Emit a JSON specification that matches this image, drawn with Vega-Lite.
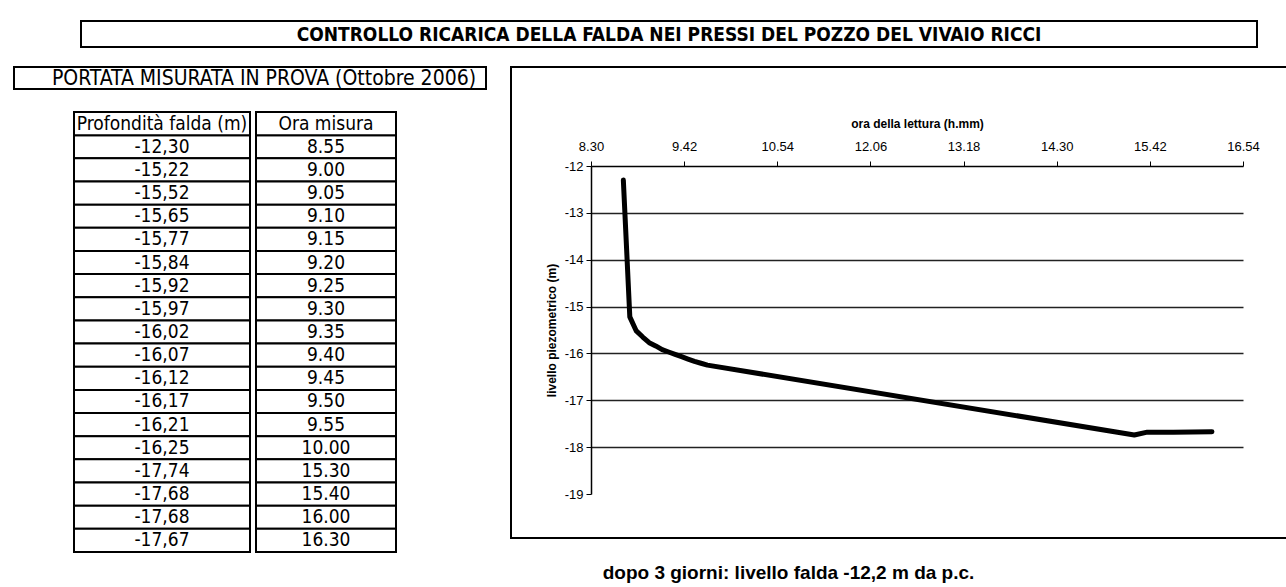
{
  "$schema": "https://vega.github.io/schema/vega-lite/v6.json",
  "padding": {"left": 13, "top": 20, "right": 0, "bottom": 0},
  "background": "white",
  "config": {
    "locale": {"number": {"decimal": ",", "thousands": ".", "grouping": [3], "currency": ["", ""], "minus": "-"}},
    "view": {"stroke": null},
    "font": "Liberation Sans"
  },
  "datasets": {
    "tab": [
      {"prof": -12.30, "ora": "8.55", "min": 535},
      {"prof": -15.22, "ora": "9.00", "min": 540},
      {"prof": -15.52, "ora": "9.05", "min": 545},
      {"prof": -15.65, "ora": "9.10", "min": 550},
      {"prof": -15.77, "ora": "9.15", "min": 555},
      {"prof": -15.84, "ora": "9.20", "min": 560},
      {"prof": -15.92, "ora": "9.25", "min": 565},
      {"prof": -15.97, "ora": "9.30", "min": 570},
      {"prof": -16.02, "ora": "9.35", "min": 575},
      {"prof": -16.07, "ora": "9.40", "min": 580},
      {"prof": -16.12, "ora": "9.45", "min": 585},
      {"prof": -16.17, "ora": "9.50", "min": 590},
      {"prof": -16.21, "ora": "9.55", "min": 595},
      {"prof": -16.25, "ora": "10.00", "min": 600},
      {"prof": -17.74, "ora": "15.30", "min": 930},
      {"prof": -17.68, "ora": "15.40", "min": 940},
      {"prof": -17.68, "ora": "16.00", "min": 960},
      {"prof": -17.67, "ora": "16.30", "min": 990}
    ]
  },
  "spacing": 18,
  "vconcat": [
    {
      "spacing": 65,
      "hconcat": [
        {"data": {"values": []}, "mark": {"type": "text", "text": ""}, "width": 1, "height": 1},
        {
          "width": 1176, "height": 26,
          "view": {"stroke": "black", "strokeWidth": 2},
          "data": {"values": [{"t": "CONTROLLO RICARICA DELLA FALDA NEI PRESSI DEL POZZO DEL VIVAIO RICCI"}]},
          "mark": {"type": "text", "align": "center", "baseline": "middle", "dy": 1, "font": "Liberation Sans Narrow, Arial Narrow, DejaVu Sans Condensed, sans-serif", "fontSize": 19, "fontWeight": "bold", "color": "black"},
          "encoding": {
            "x": {"datum": 0.5, "type": "quantitative", "scale": {"domain": [0, 1]}, "axis": null},
            "y": {"datum": 0.5, "type": "quantitative", "scale": {"domain": [0, 1]}, "axis": null},
            "text": {"field": "t"}
          }
        }
      ]
    },
    {
      "spacing": 23,
      "hconcat": [
        {
          "spacing": 21,
          "vconcat": [
            {
              "width": 472, "height": 22,
              "view": {"stroke": "black", "strokeWidth": 2},
              "data": {"values": [{"t": "PORTATA MISURATA IN PROVA (Ottobre 2006)"}]},
              "mark": {"type": "text", "dx": 14, "dy": 1, "align": "center", "baseline": "middle", "font": "Liberation Sans Narrow, Arial Narrow, DejaVu Sans Condensed, sans-serif", "fontSize": 21, "color": "black"},
              "encoding": {
                "x": {"datum": 0.5, "type": "quantitative", "scale": {"domain": [0, 1]}, "axis": null},
                "y": {"datum": 0.5, "type": "quantitative", "scale": {"domain": [0, 1]}, "axis": null},
                "text": {"field": "t"}
              }
            },
            {
              "spacing": 58,
              "hconcat": [
                {"data": {"values": []}, "mark": {"type": "text", "text": ""}, "width": 1, "height": 1},
                {
                  "spacing": 4,
                  "hconcat": [
                    {
                      "width": 176, "height": 440,
                      "layer": [
                        {
                          "data": {"name": "tab"},
                          "mark": {"type": "rect", "fill": "white", "stroke": "black", "strokeWidth": 2},
                          "encoding": {
                            "y": {"field": "ora", "type": "nominal", "sort": null, "scale": {"domain": ["h", "8.55", "9.00", "9.05", "9.10", "9.15", "9.20", "9.25", "9.30", "9.35", "9.40", "9.45", "9.50", "9.55", "10.00", "15.30", "15.40", "16.00", "16.30"], "paddingInner": 0, "paddingOuter": 0}, "axis": null},
                            "x": {"datum": 0, "type": "quantitative", "scale": {"domain": [0, 1]}, "axis": null},
                            "x2": {"datum": 1}
                          }
                        },
                        {
                          "data": {"name": "tab"},
                          "mark": {"type": "text", "font": "Liberation Sans Narrow, Arial Narrow, DejaVu Sans Condensed, sans-serif", "fontSize": 19, "color": "black", "baseline": "middle"},
                          "encoding": {
                            "y": {"field": "ora", "type": "nominal", "sort": null},
                            "x": {"datum": 0.5, "type": "quantitative"},
                            "text": {"field": "prof", "format": ".2f"}
                          }
                        },
                        {
                          "data": {"values": [{"ora": "h", "label": "Profondità falda (m)"}]},
                          "mark": {"type": "rect", "fill": "white", "stroke": "black", "strokeWidth": 2},
                          "encoding": {
                            "y": {"field": "ora", "type": "nominal"},
                            "x": {"datum": 0, "type": "quantitative"},
                            "x2": {"datum": 1}
                          }
                        },
                        {
                          "data": {"values": [{"ora": "h", "label": "Profondità falda (m)"}]},
                          "mark": {"type": "text", "font": "Liberation Sans Narrow, Arial Narrow, DejaVu Sans Condensed, sans-serif", "fontSize": 19, "color": "black", "baseline": "middle"},
                          "encoding": {
                            "y": {"field": "ora", "type": "nominal"},
                            "x": {"datum": 0.5, "type": "quantitative"},
                            "text": {"field": "label"}
                          }
                        }
                      ]
                    },
                    {
                      "width": 140, "height": 440,
                      "layer": [
                        {
                          "data": {"name": "tab"},
                          "mark": {"type": "rect", "fill": "white", "stroke": "black", "strokeWidth": 2},
                          "encoding": {
                            "y": {"field": "ora", "type": "nominal", "sort": null, "scale": {"domain": ["h", "8.55", "9.00", "9.05", "9.10", "9.15", "9.20", "9.25", "9.30", "9.35", "9.40", "9.45", "9.50", "9.55", "10.00", "15.30", "15.40", "16.00", "16.30"], "paddingInner": 0, "paddingOuter": 0}, "axis": null},
                            "x": {"datum": 0, "type": "quantitative", "scale": {"domain": [0, 1]}, "axis": null},
                            "x2": {"datum": 1}
                          }
                        },
                        {
                          "data": {"name": "tab"},
                          "mark": {"type": "text", "font": "Liberation Sans Narrow, Arial Narrow, DejaVu Sans Condensed, sans-serif", "fontSize": 19, "color": "black", "baseline": "middle"},
                          "encoding": {
                            "y": {"field": "ora", "type": "nominal", "sort": null},
                            "x": {"datum": 0.5, "type": "quantitative"},
                            "text": {"field": "ora"}
                          }
                        },
                        {
                          "data": {"values": [{"ora": "h", "label": "Ora misura"}]},
                          "mark": {"type": "rect", "fill": "white", "stroke": "black", "strokeWidth": 2},
                          "encoding": {
                            "y": {"field": "ora", "type": "nominal"},
                            "x": {"datum": 0, "type": "quantitative"},
                            "x2": {"datum": 1}
                          }
                        },
                        {
                          "data": {"values": [{"ora": "h", "label": "Ora misura"}]},
                          "mark": {"type": "text", "font": "Liberation Sans Narrow, Arial Narrow, DejaVu Sans Condensed, sans-serif", "fontSize": 19, "color": "black", "baseline": "middle"},
                          "encoding": {
                            "y": {"field": "ora", "type": "nominal"},
                            "x": {"datum": 0.5, "type": "quantitative"},
                            "text": {"field": "label"}
                          }
                        }
                      ]
                    }
                  ]
                }
              ]
            }
          ]
        },
        {
          "spacing": 24,
          "vconcat": [
            {
              "width": 777, "height": 471,
              "view": {"stroke": "black", "strokeWidth": 2},
              "data": {"name": "tab"},
              "mark": {"type": "line", "color": "black", "strokeWidth": 5, "strokeJoin": "round", "strokeCap": "round"},
              "encoding": {
                "x": {
                  "field": "min", "type": "quantitative",
                  "scale": {"domain": [510, 1014], "range": [80, 732], "nice": false, "zero": false},
                  "axis": {
                    "orient": "top", "offset": -99,
                    "values": [510, 582, 654, 726, 798, 870, 942, 1014],
                    "labelExpr": "floor(datum.value/60) + '.' + (datum.value % 60 < 10 ? '0' : '') + (datum.value % 60)",
                    "grid": false, "labelFlush": false, "labelOverlap": false,
                    "domainColor": "black", "domainWidth": 1.5, "tickColor": "black", "tickSize": 5,
                    "labelFont": "Liberation Sans", "labelFontSize": 13, "labelColor": "black", "labelPadding": 8,
                    "title": "ora della lettura (h.mm)", "titleFont": "Liberation Sans", "titleFontSize": 12, "titleFontWeight": "bold", "titleColor": "black", "titlePadding": 10
                  }
                },
                "y": {
                  "field": "prof", "type": "quantitative",
                  "scale": {"domain": [-19, -12], "range": [427, 99], "nice": false, "zero": false},
                  "axis": {
                    "orient": "left", "offset": -80,
                    "values": [-12, -13, -14, -15, -16, -17, -18, -19],
                    "format": "d",
                    "grid": true, "gridColor": "#222", "gridWidth": 1.5,
                    "gridOpacity": {"condition": {"test": "datum.value < -18.5 || datum.value > -12.5", "value": 0}, "value": 1},
                    "domainColor": "black", "domainWidth": 1.5, "tickColor": "black", "tickSize": 5,
                    "labelFont": "Liberation Sans", "labelFontSize": 13, "labelColor": "black", "labelPadding": 3,
                    "title": "livello piezometrico (m)", "titleFont": "Liberation Sans", "titleFontSize": 12, "titleFontWeight": "bold", "titleColor": "black", "titlePadding": 6
                  }
                }
              }
            },
            {
              "width": 777, "height": 20,
              "data": {"values": [{"t": "dopo 3 giorni:  livello falda -12,2 m da p.c."}]},
              "mark": {"type": "text", "dx": -111, "align": "center", "baseline": "middle", "font": "Liberation Sans", "fontSize": 19, "fontWeight": "bold", "color": "black"},
              "encoding": {
                "x": {"datum": 0.5, "type": "quantitative", "scale": {"domain": [0, 1]}, "axis": null},
                "y": {"datum": 0.5, "type": "quantitative", "scale": {"domain": [0, 1]}, "axis": null},
                "text": {"field": "t"}
              }
            }
          ]
        }
      ]
    }
  ]
}
